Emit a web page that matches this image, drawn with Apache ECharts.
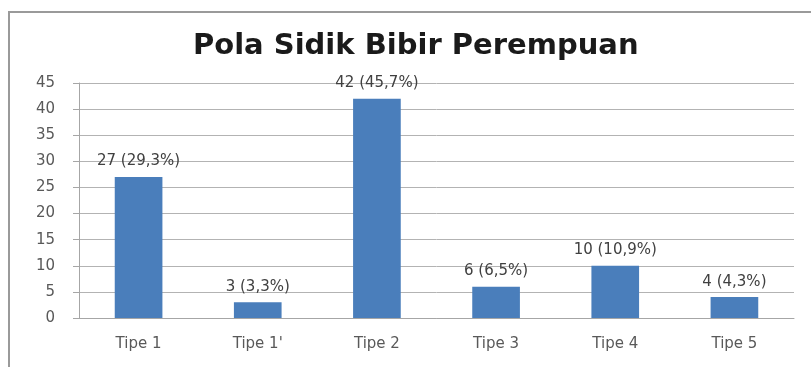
<!DOCTYPE html>
<html>
<head>
<meta charset="utf-8">
<script src="https://cdn.jsdelivr.net/npm/echarts@6/dist/echarts.min.js"></script>
<style>
  html, body { margin: 0; padding: 0; background: #fff; }
  #chart { width: 811px; height: 367px; }
</style>
</head>
<body>
<div id="chart"></div>
<script>
const categories = ['Tipe 1', "Tipe 1'", 'Tipe 2', 'Tipe 3', 'Tipe 4', 'Tipe 5']
const counts = [27, 3, 42, 6, 10, 4]
const percents = ['29,3%', '3,3%', '45,7%', '6,5%', '10,9%', '4,3%']
const yTicks = [0, 45, 5]   // min, max, interval

const chart = echarts.init(document.getElementById('chart'))

const opts = {
  animation: false,
  backgroundColor: '#fff',
  title: {
    text: 'Pola Sidik Bibir Perempuan',
    left: 188,
    top: 27,
    textStyle: {
      fontFamily: 'DejaVu Sans',
      fontSize: 29,
      fontWeight: 'bold',
      color: '#1a1a1a'
    }
  },
  graphic: [
    {
      type: 'rect',
      shape: { x: 9, y: 12, width: 820, height: 380 },
      style: { fill: 'none', stroke: '#9a9a9a', lineWidth: 2 },
      silent: true
    }
  ],
  grid: {
    left: 79,
    right: 17,
    top: 83,
    bottom: 49
  },
  xAxis: {
    type: 'category',
    data: categories,
    axisLine: { lineStyle: { color: '#a6a6a6' } },
    axisTick: { show: false },
    axisLabel: {
      margin: 19,
      fontFamily: 'DejaVu Sans',
      fontSize: 15,
      color: '#595959'
    }
  },
  yAxis: {
    type: 'value',
    min: yTicks[0],
    max: yTicks[1],
    interval: yTicks[2],
    axisLine: { show: true, lineStyle: { color: '#a6a6a6' } },
    axisTick: { show: true, length: 6, lineStyle: { color: '#a6a6a6' } },
    splitLine: { lineStyle: { color: '#b3b3b3' } },
    axisLabel: {
      margin: 24,
      fontFamily: 'DejaVu Sans',
      fontSize: 15,
      color: '#595959'
    }
  },
  series: [
    {
      type: 'bar',
      data: counts,
      barWidth: '40%',
      itemStyle: { color: '#4a7ebb' },
      label: {
        show: true,
        position: 'top',
        distance: 8,
        fontFamily: 'DejaVu Sans',
        fontSize: 15,
        color: '#404040',
        formatter: p => p.value + ' (' + percents[p.dataIndex] + ')'
      }
    }
  ]
}

chart.setOption(opts)
</script>
</body>
</html>
